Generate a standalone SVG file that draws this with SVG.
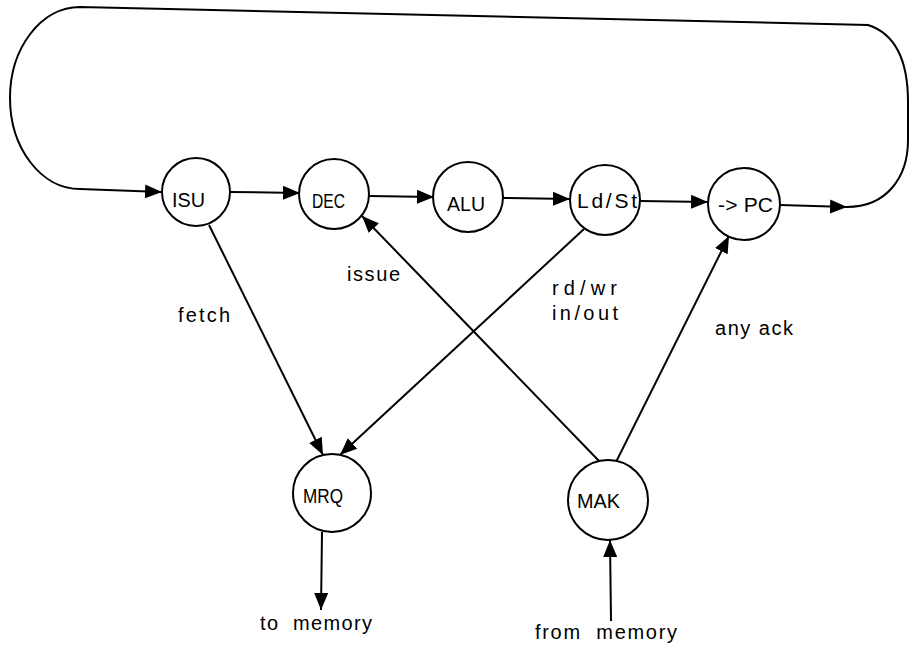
<svg xmlns="http://www.w3.org/2000/svg" width="909" height="648" viewBox="0 0 909 648">
  <style>
    .node circle { fill: #fff; stroke: #000; stroke-width: 2; }
    .node text { font-family: "Liberation Sans", Arial, sans-serif; font-size: 21px; fill: #000; }
    .edge { fill: none; stroke: #000; stroke-width: 2; }
    .lbl { font-family: "Liberation Sans", Arial, sans-serif; font-size: 20px; fill: #000; }
  </style>
  <defs>
    <marker id="arrow" markerUnits="userSpaceOnUse" markerWidth="18" markerHeight="14" refX="17" refY="7" orient="auto">
      <path d="M0,0 L17,7 L0,14 Z" fill="#000"/>
    </marker>
  </defs>
  <rect width="909" height="648" fill="#fff"/>

  <!-- connectors -->
  <g id="connectors">
    <!-- pipeline row -->
    <line class="edge" x1="230" y1="192" x2="300" y2="193" marker-end="url(#arrow)"/>
    <line class="edge" x1="369" y1="196" x2="434" y2="197" marker-end="url(#arrow)"/>
    <line class="edge" x1="503" y1="198" x2="570" y2="199" marker-end="url(#arrow)"/>
    <line class="edge" x1="640" y1="201" x2="708" y2="202" marker-end="url(#arrow)"/>
    <line class="edge" x1="780" y1="205" x2="847" y2="207" marker-end="url(#arrow)"/>
    <!-- feedback loop back to ISU -->
    <path class="edge" d="M847,207 C886,207 908,178 908,140 L908,102 C908,62 896,34 868,25 L80,7 C41,7 10,48 10,98 C10,148 41,189 80,189 L162,192" marker-end="url(#arrow)"/>
    <!-- memory request paths -->
    <line class="edge" x1="209" y1="225" x2="323" y2="455" marker-end="url(#arrow)"/>
    <line class="edge" x1="584" y1="229" x2="340" y2="455" marker-end="url(#arrow)"/>
    <!-- acknowledgement paths -->
    <line class="edge" x1="600" y1="462" x2="362" y2="216" marker-end="url(#arrow)"/>
    <line class="edge" x1="616" y1="462" x2="729" y2="236" marker-end="url(#arrow)"/>
    <!-- memory interface -->
    <line class="edge" x1="322" y1="532" x2="321" y2="610" marker-end="url(#arrow)"/>
    <line class="edge" x1="611" y1="621" x2="610" y2="540" marker-end="url(#arrow)"/>
  </g>

  <!-- edge labels -->
  <g id="labels">
    <text class="lbl" x="178" y="322" textLength="52">fetch</text>
    <text class="lbl" x="347" y="281" textLength="53">issue</text>
    <text class="lbl" x="552" y="295" textLength="65">rd/wr</text>
    <text class="lbl" x="552" y="320" textLength="66">in/out</text>
    <text class="lbl" x="715" y="335" textLength="78">any ack</text>
    <text class="lbl" x="260" y="630" textLength="112" xml:space="preserve">to  memory</text>
    <text class="lbl" x="535" y="639" textLength="142" xml:space="preserve">from  memory</text>
  </g>

  <!-- nodes -->
  <g id="ISU" class="node">
    <circle cx="196" cy="192" r="34"/>
    <text x="172" y="207" textLength="33" lengthAdjust="spacingAndGlyphs">ISU</text>
  </g>
  <g id="DEC" class="node">
    <circle cx="334" cy="194" r="35"/>
    <text x="312" y="208" textLength="33" lengthAdjust="spacingAndGlyphs">DEC</text>
  </g>
  <g id="ALU" class="node">
    <circle cx="468" cy="197" r="35"/>
    <text x="447" y="211" textLength="38" lengthAdjust="spacingAndGlyphs">ALU</text>
  </g>
  <g id="LdSt" class="node">
    <circle cx="605" cy="200" r="35"/>
    <text x="577" y="208" textLength="60">Ld/St</text>
  </g>
  <g id="PC" class="node">
    <circle cx="744" cy="204" r="36"/>
    <text x="718" y="212" textLength="55">-&gt; PC</text>
  </g>
  <g id="MRQ" class="node">
    <circle cx="332" cy="493" r="39"/>
    <text x="303" y="503" textLength="40" lengthAdjust="spacingAndGlyphs">MRQ</text>
  </g>
  <g id="MAK" class="node">
    <circle cx="608" cy="500" r="40"/>
    <text x="577" y="508" textLength="43" lengthAdjust="spacingAndGlyphs">MAK</text>
  </g>
</svg>
